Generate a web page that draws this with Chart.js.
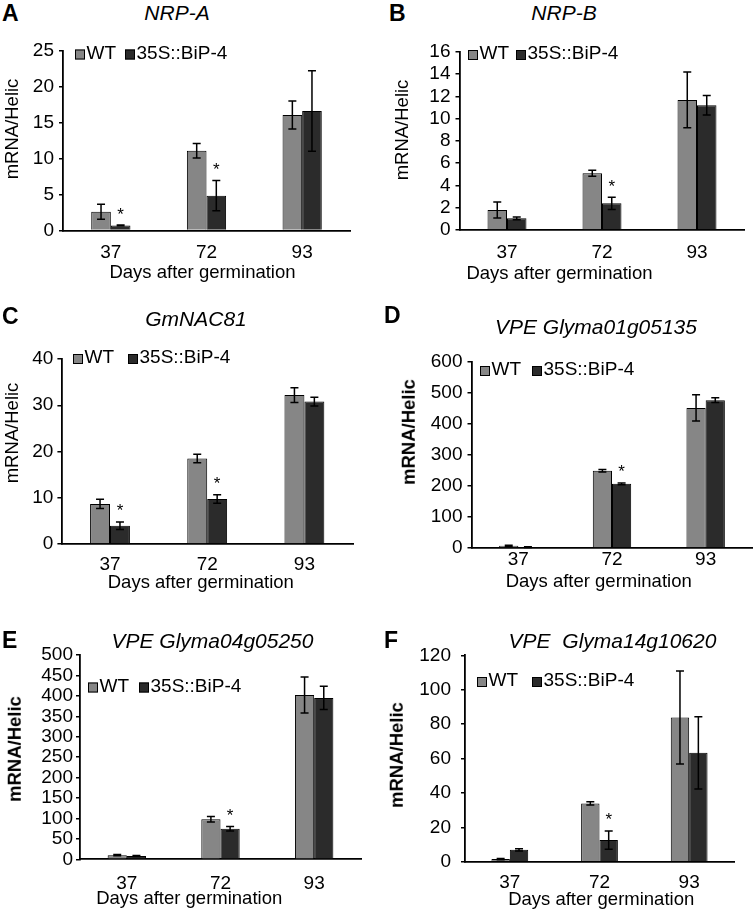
<!DOCTYPE html>
<html><head><meta charset="utf-8">
<script src="https://cdn.jsdelivr.net/npm/chart.js@4.4.1/dist/chart.umd.min.js"></script>
<style>
html,body{margin:0;padding:0;background:#fff;}
#page{position:relative;width:754px;height:911px;overflow:hidden;font-family:"Liberation Sans",Arial,sans-serif;color:#000;}
.tx{position:absolute;white-space:pre;line-height:1;}
.c{transform:translate(-50%,-50%);}
.let{font-weight:bold;font-size:23px;transform:translateY(-50%);}
.ttl{font-style:italic;font-size:21px;}
.yt{font-size:18.5px;transform:translate(-50%,-50%) rotate(-90deg);}
.ytb{font-weight:bold;}
.xt{font-size:18.5px;}
canvas{position:absolute;}
</style></head><body><div id="page"></div>
<script>
// ---------- data ----------
const categories = ['37', '72', '93'];
const seriesNames = ['WT', '35S::BiP-4'];
const xAxisTitle = 'Days after germination';
const yAxisTitle = 'mRNA/Helic';

// A  NRP-A
const nrpA_WT = [2.6, 11.1, 16.1];
const nrpA_WT_err = [1.05, 1.0, 1.95];
const nrpA_BiP = [0.7, 4.85, 16.65];
const nrpA_BiP_err = [0.05, 2.1, 5.6];
const nrpA_sig = [1, 1, 0];
// B  NRP-B
const nrpB_WT = [1.8, 5.09, 11.67];
const nrpB_WT_err = [0.72, 0.27, 2.5];
const nrpB_BiP = [1.05, 2.4, 11.19];
const nrpB_BiP_err = [0.12, 0.55, 0.88];
const nrpB_sig = [0, 1, 0];
// C  GmNAC81
const nac81_WT = [8.65, 18.5, 32.2];
const nac81_WT_err = [1.0, 0.93, 1.6];
const nac81_BiP = [3.96, 9.73, 30.8];
const nac81_BiP_err = [0.8, 0.9, 0.95];
const nac81_sig = [1, 1, 0];
// D  VPE Glyma01g05135
const vpe01_WT = [7, 249, 452];
const vpe01_WT_err = [2, 4, 42];
const vpe01_BiP = [3, 207, 477];
const vpe01_BiP_err = [1, 3, 8];
const vpe01_sig = [0, 1, 0];
// E  VPE Glyma04g05250
const vpe04_WT = [10, 98, 402];
const vpe04_WT_err = [1.5, 7, 44];
const vpe04_BiP = [8, 75, 395];
const vpe04_BiP_err = [1, 5.5, 28.5];
const vpe04_sig = [0, 1, 0];
// F  VPE Glyma14g10620
const vpe14_WT = [1.5, 33.9, 83.8];
const vpe14_WT_err = [0.3, 1.0, 27];
const vpe14_BiP = [6.9, 12.6, 63.3];
const vpe14_BiP_err = [0.7, 5.3, 21];
const vpe14_sig = [0, 1, 0];

// y-axis ranges (max, step)
const yRangeA = [25, 5];
const yRangeB = [16, 2];
const yRangeC = [40, 10];
const yRangeD = [600, 100];
const yRangeE = [500, 50];
const yRangeF = [120, 20];

// ---------- styles / layout ----------
const WT_COLOR = '#868686';
const BIP_COLOR = '#2b2b2b';
const FONT = '"Liberation Sans", Arial, sans-serif';
const TICK_SIZE = 19;

const panels = [
  {letter:'A', title:'NRP-A', wt:nrpA_WT, wtErr:nrpA_WT_err, bip:nrpA_BiP, bipErr:nrpA_BiP_err, sig:nrpA_sig, range:yRangeA,
   L:63, T:51, R:350, B:230.5, yPad:5, xPad:11.1, boldY:false,
   letterPos:[2,12.5], titlePos:[177,11.5], yTitlePos:[12,129], xTitlePos:[202.5,271.7], legend:[75,125,49.5]},
  {letter:'B', title:'NRP-B', wt:nrpB_WT, wtErr:nrpB_WT_err, bip:nrpB_BiP, bipErr:nrpB_BiP_err, sig:nrpB_sig, range:yRangeB,
   L:459.5, T:51.7, R:744.5, B:230, yPad:5, xPad:11.6, boldY:false,
   letterPos:[389,12.5], titlePos:[564,12], yTitlePos:[402,130], xTitlePos:[559.5,273.3], legend:[468,516,50]},
  {letter:'C', title:'GmNAC81', wt:nac81_WT, wtErr:nac81_WT_err, bip:nac81_BiP, bipErr:nac81_BiP_err, sig:nac81_sig, range:yRangeC,
   L:61.4, T:359, R:353, B:544, yPad:4, xPad:9.6, boldY:false,
   letterPos:[2,315.5], titlePos:[196,317.5], yTitlePos:[12,432.5], xTitlePos:[200.8,582], legend:[73,128,354]},
  {letter:'D', title:'VPE Glyma01g05135', wt:vpe01_WT, wtErr:vpe01_WT_err, bip:vpe01_BiP, bipErr:vpe01_BiP_err, sig:vpe01_sig, range:yRangeD,
   L:471.5, T:362, R:752.5, B:548, yPad:5, xPad:0, boldY:true,
   letterPos:[384,314.5], titlePos:[596,325.5], yTitlePos:[408.7,431.7], xTitlePos:[598.7,580.5], legend:[480,532,366]},
  {letter:'E', title:'VPE Glyma04g05250', wt:vpe04_WT, wtErr:vpe04_WT_err, bip:vpe04_BiP, bipErr:vpe04_BiP_err, sig:vpe04_sig, range:yRangeE,
   L:80, T:655, R:361, B:859.3, yPad:3, xPad:12.6, boldY:true,
   letterPos:[2,639.5], titlePos:[212.5,639.5], yTitlePos:[14.5,749], xTitlePos:[189.2,897.5], legend:[88,139,682.5]},
  {letter:'F', title:'VPE  Glyma14g10620', wt:vpe14_WT, wtErr:vpe14_WT_err, bip:vpe14_BiP, bipErr:vpe14_BiP_err, sig:vpe14_sig, range:yRangeF,
   L:465, T:655.3, R:734, B:861.7, yPad:10, xPad:9.9, boldY:true,
   letterPos:[384,639.5], titlePos:[612.5,639.5], yTitlePos:[396.5,755], xTitlePos:[601.2,899.2], legend:[477,532,677]}
];

Chart.defaults.font.family = FONT;
Chart.defaults.font.size = TICK_SIZE;
Chart.defaults.color = '#000';

const errorBarPlugin = {
  id: 'errbars',
  afterDatasetsDraw(chart) {
    const ctx = chart.ctx, ys = chart.scales.y;
    ctx.save();
    ctx.strokeStyle = '#000';
    ctx.fillStyle = '#000';
    ctx.lineWidth = 1.5;
    chart.data.datasets.forEach((ds, di) => {
      const meta = chart.getDatasetMeta(di);
      meta.data.forEach((bar, i) => {
        const v = ds.data[i], e = ds.errors[i];
        const yt = ys.getPixelForValue(v + e), yb = ys.getPixelForValue(Math.max(0, v - e));
        const x = bar.x;
        ctx.beginPath();
        ctx.moveTo(x, yt); ctx.lineTo(x, yb);
        ctx.moveTo(x - 4, yt); ctx.lineTo(x + 4, yt);
        ctx.moveTo(x - 4, yb); ctx.lineTo(x + 4, yb);
        ctx.stroke();
        if (ds.sig && ds.sig[i]) {
          ctx.font = '17px ' + FONT;
          ctx.textAlign = 'center';
          ctx.textBaseline = 'alphabetic';
          ctx.fillText('*', x, yt - 5.5);
        }
      });
    });
    ctx.restore();
  }
};

const legendPlugin = {
  id: 'boxlegend',
  afterDraw(chart, args, opts) {
    const ctx = chart.ctx;
    ctx.save();
    ctx.font = TICK_SIZE + 'px ' + FONT;
    ctx.textAlign = 'left';
    ctx.textBaseline = 'alphabetic';
    const xs = [opts.x1, opts.x2];
    chart.data.datasets.forEach((ds, di) => {
      const x = xs[di], y = opts.y;
      ctx.fillStyle = ds.backgroundColor;
      ctx.fillRect(x, y, 10, 10);
      ctx.strokeStyle = '#000';
      ctx.lineWidth = 1;
      ctx.strokeRect(x + 0.5, y + 0.5, 9, 9);
      ctx.fillStyle = '#000';
      ctx.fillText(ds.label, x + 11.5, y + 9);
    });
    ctx.restore();
  }
};

const page = document.getElementById('page');
function addText(cls, txt, x, y) {
  const d = document.createElement('div');
  d.className = 'tx ' + cls;
  d.textContent = txt;
  d.style.left = x + 'px';
  d.style.top = y + 'px';
  page.appendChild(d);
}

panels.forEach(p => {
  const padL = 62, padT = 24, padR = 12, padB = 45;
  const cl = Math.floor(p.L - padL), ct = Math.floor(p.T - padT);
  const cw = Math.ceil(p.R + padR) - cl, ch = Math.ceil(p.B + padB) - ct;
  const yW = p.L - cl, topPad = p.T - ct, rightPad = cl + cw - p.R, xH = ct + ch - p.B;
  const cv = document.createElement('canvas');
  cv.width = cw; cv.height = ch;
  cv.style.left = cl + 'px'; cv.style.top = ct + 'px';
  cv.style.width = cw + 'px'; cv.style.height = ch + 'px';
  page.appendChild(cv);

  new Chart(cv.getContext('2d'), {
    type: 'bar',
    data: {
      labels: categories,
      datasets: [
        {label: seriesNames[0], data: p.wt, errors: p.wtErr, backgroundColor: WT_COLOR, borderColor: '#000', borderWidth: 1,
         categoryPercentage: 0.41, barPercentage: 1.0},
        {label: seriesNames[1], data: p.bip, errors: p.bipErr, sig: p.sig, backgroundColor: BIP_COLOR, borderColor: '#000', borderWidth: 1,
         categoryPercentage: 0.41, barPercentage: 1.0}
      ]
    },
    options: {
      responsive: false,
      animation: false,
      devicePixelRatio: 1,
      layout: {padding: {left: 0, top: topPad, right: rightPad, bottom: 0}},
      plugins: {
        legend: {display: false},
        tooltip: {enabled: false},
        title: {display: false},
        boxlegend: {x1: p.legend[0] - cl, x2: p.legend[1] - cl, y: p.legend[2] - ct}
      },
      scales: {
        x: {
          offset: true,
          grid: {display: false, drawTicks: false},
          border: {display: true, color: '#000', width: 1.8},
          ticks: {padding: p.xPad, color: '#000', font: {size: TICK_SIZE}, maxRotation: 0, autoSkip: false},
          afterFit: s => { s.height = xH; }
        },
        y: {
          min: 0, max: p.range[0],
          grid: {display: true, drawOnChartArea: false, drawTicks: true, tickLength: 4, color: '#000', lineWidth: 1.5},
          border: {display: true, color: '#000', width: 1.8},
          ticks: {stepSize: p.range[1], padding: p.yPad, color: '#000', font: {size: TICK_SIZE}, autoSkip: false},
          afterFit: s => { s.width = yW; }
        }
      }
    },
    plugins: [errorBarPlugin, legendPlugin]
  });

  addText('let', p.letter, p.letterPos[0], p.letterPos[1]);
  addText('c ttl', p.title, p.titlePos[0], p.titlePos[1]);
  addText('yt' + (p.boldY ? ' ytb' : ''), yAxisTitle, p.yTitlePos[0], p.yTitlePos[1]);
  addText('c xt', xAxisTitle, p.xTitlePos[0], p.xTitlePos[1]);
});
</script>
</body></html>
